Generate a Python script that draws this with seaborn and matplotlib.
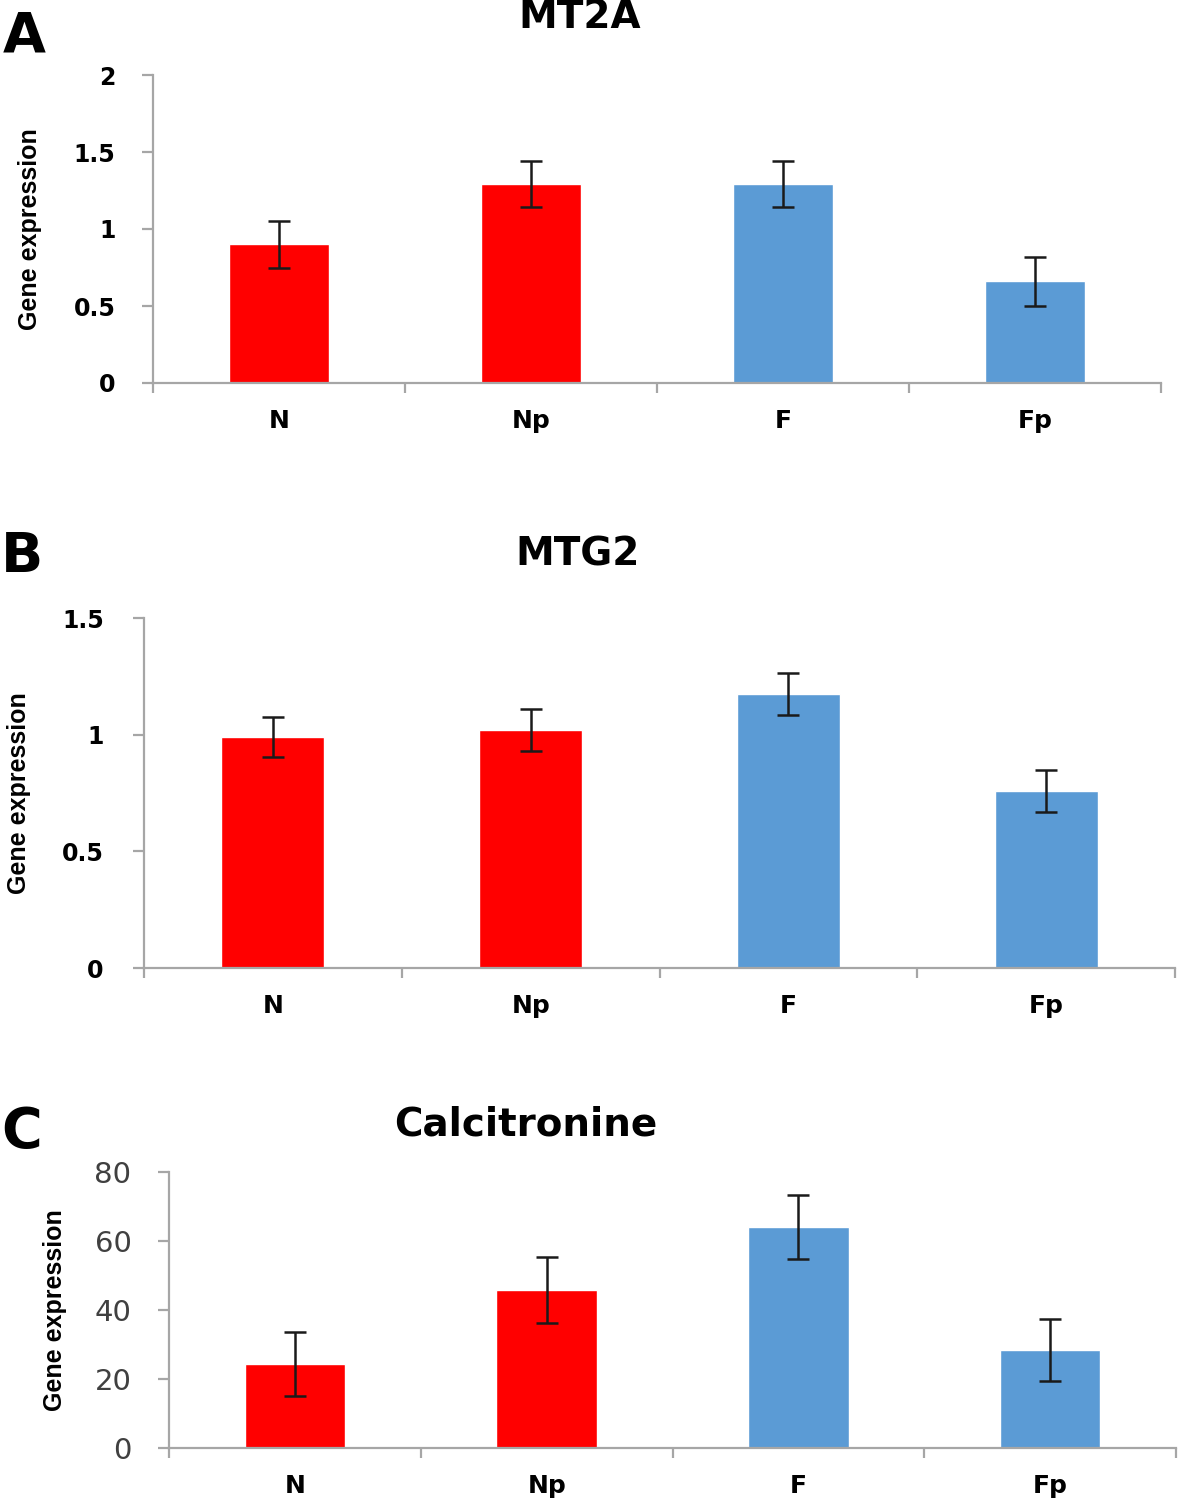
import numpy as np
import pandas as pd
import seaborn as sns
import matplotlib.pyplot as plt

groups = ["N", "Np", "F", "Fp"]
group_colors = ["#FF0000", "#FF0000", "#5B9BD5", "#5B9BD5"]

mt2a = [0.90, 1.29, 1.29, 0.66]
mt2a_err = [0.15, 0.15, 0.15, 0.16]

mtg2 = [0.99, 1.02, 1.175, 0.76]
mtg2_err = [0.085, 0.09, 0.09, 0.09]

calci = [24.3, 45.8, 64.1, 28.4]
calci_err = [9.3, 9.5, 9.2, 9.1]

sns.set_theme(style="white")
plt.rcParams["font.family"] = ["DejaVu Sans"]
plt.rcParams["text.color"] = "black"
plt.rcParams["axes.labelcolor"] = "black"
plt.rcParams["xtick.color"] = "black"
plt.rcParams["ytick.color"] = "black"

AXIS_GREY = "#A6A6A6"


def bar_panel(fig, rect, vals, errs, yticks, title, title_xy, letter, letter_xy,
              ylabel_x, tick_bold=True, tick_size=17, tick_color="black", tick_pad=19):
    ax = fig.add_axes(rect)
    df = pd.DataFrame({"group": groups, "value": vals})
    sns.barplot(data=df, x="group", y="value", hue="group", palette=group_colors,
                legend=False, width=0.4, errorbar=None, saturation=1, ax=ax)
    ax.errorbar(np.arange(len(groups)), vals, yerr=errs, fmt="none",
                ecolor="#1a1a1a", elinewidth=1.8, capsize=8, capthick=1.8)
    ax.set_xlim(-0.5, len(groups) - 0.5)
    ax.set_ylim(yticks[0], yticks[-1])
    ax.set_yticks(yticks)
    ax.set_yticklabels([f"{t:g}" for t in yticks])
    ax.set_xticks(np.arange(-0.5, len(groups), 1.0), minor=True)
    for s in ["top", "right"]:
        ax.spines[s].set_visible(False)
    for s in ["left", "bottom"]:
        ax.spines[s].set_color(AXIS_GREY)
        ax.spines[s].set_linewidth(1.6)
    ax.tick_params(axis="x", which="major", length=0, pad=19)
    ax.tick_params(axis="x", which="minor", bottom=True, length=7, width=1.6,
                   color=AXIS_GREY, direction="out")
    ax.tick_params(axis="y", left=True, length=8, width=1.6, color=AXIS_GREY,
                   direction="out", pad=tick_pad)
    wt = "bold" if tick_bold else "normal"
    for lab in ax.get_xticklabels():
        lab.set_fontsize(18)
        lab.set_fontweight("bold")
        lab.set_color("black")
    for lab in ax.get_yticklabels():
        lab.set_fontsize(tick_size)
        lab.set_fontweight(wt)
        lab.set_color(tick_color)
    ax.set_xlabel("")
    ax.set_ylabel("Gene expression", fontsize=18, fontweight="bold", color="black",
                  family=["Liberation Sans", "DejaVu Sans"])
    ax.yaxis.set_label_coords(ylabel_x, 0.5)
    fig.text(title_xy[0], title_xy[1], title, fontsize=28, fontweight="bold",
             color="black", ha="center", va="baseline")
    fig.text(letter_xy[0], letter_xy[1], letter, fontsize=40, fontweight="bold",
             color="black", ha="left", va="baseline")
    return ax


W, H = 1181, 1503
fig = plt.figure(figsize=(W / 100, H / 100), dpi=100)


def rect(left, right, top, bottom):
    return [left / W, 1 - bottom / H, (right - left) / W, (bottom - top) / H]


bar_panel(fig, rect(153, 1161, 75, 383), mt2a, mt2a_err, [0, 0.5, 1, 1.5, 2],
          "MT2A", (580 / W, 1 - 28 / H), "A", (3 / W, 1 - 52 / H), -0.110)
bar_panel(fig, rect(144, 1175, 618, 968), mtg2, mtg2_err, [0, 0.5, 1, 1.5],
          "MTG2", (578 / W, 1 - 566 / H), "B", (1 / W, 1 - 572 / H), -0.110,
          tick_pad=21)
bar_panel(fig, rect(169, 1176, 1172, 1448), calci, calci_err, [0, 20, 40, 60, 80],
          "Calcitronine", (526 / W, 1 - 1135 / H), "C", (1 / W, 1 - 1147 / H), -0.101,
          tick_bold=False, tick_size=21, tick_color="#404040")

fig.savefig("out.png", dpi=100)
plt.close(fig)
